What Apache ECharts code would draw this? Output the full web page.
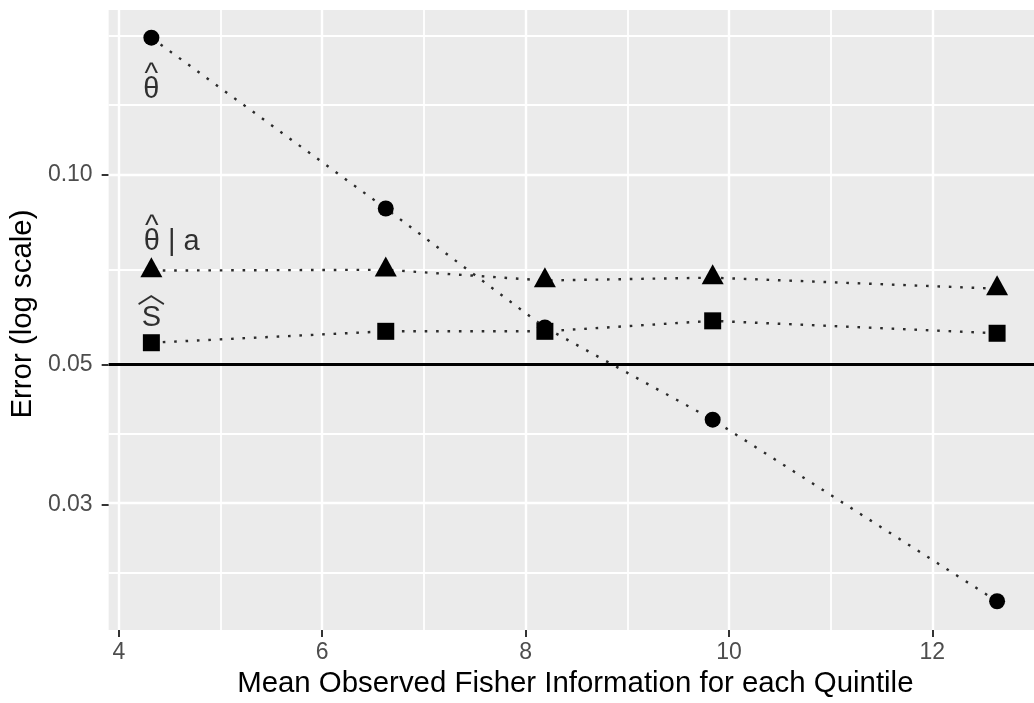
<!DOCTYPE html>
<html><head><meta charset="utf-8">
<script src="https://cdn.jsdelivr.net/npm/echarts@6/dist/echarts.min.js"></script>
<style>html,body{margin:0;padding:0;background:#fff}#c{width:1034px;height:703px}</style>
</head><body><div id="c"></div>
<script>
// ---- data ----
const xValues = [4.32, 6.625, 8.19, 9.84, 12.637];
const thetaHat = [0.1647, 0.0884, 0.0573, 0.04095, 0.02113];
const thetaHatGivenA = [0.0705, 0.0707, 0.0680, 0.0687, 0.0660];
const sHat = [0.0542, 0.0565, 0.0565, 0.0587, 0.0561];
const yTickValues = [0.03, 0.05, 0.10];
const yMinorGrid = [0.0234, 0.0387, 0.0707, 0.1288, 0.1663];
const xTickValues = [4, 6, 8, 10, 12];
const xMinorGrid = [5, 7, 9, 11];
const referenceLine = 0.05;
const annX = [4.32, 4.52, 4.32];
const annY = [0.1397, 0.0804, 0.0634];
const annHat = ['^', '^', '︿'];
const annText = ['θ', 'θ | a', 'S'];

const FONT = 'Liberation Sans, Arial, Helvetica, sans-serif';
const L = v => Math.log10(v);

const chart = echarts.init(document.getElementById('c'));

const gridLines = [];
xTickValues.forEach(v => gridLines.push({xAxis: v, lineStyle: {color: '#fff', width: 2.4, type: 'solid'}}));
xMinorGrid.forEach(v => gridLines.push({xAxis: v, lineStyle: {color: '#fff', width: 1.8, type: 'solid'}}));
yTickValues.forEach(v => gridLines.push({yAxis: L(v), lineStyle: {color: '#fff', width: 2.4, type: 'solid'}}));
yMinorGrid.forEach(v => gridLines.push({yAxis: L(v), lineStyle: {color: '#fff', width: 1.8, type: 'solid'}}));

const dotted = {type: [2.6, 8.8], width: 2.4, color: '#2b2b2b', cap: 'butt', opacity: 1};
const toPts = arr => xValues.map((x, i) => [x, L(arr[i])]);

const annData = annX.map((x, i) => {
  const hatStyle = i === 1 ? 'h2' : (i === 2 ? 'hw' : 'h');
  return {
    value: [x, L(annY[i])],
    label: {formatter: '{' + hatStyle + '|' + annHat[i] + '}\n{t|' + annText[i] + '}'}
  };
});

const pointStyle = {color: '#000', opacity: 1};

const option = {
  animation: false,
  backgroundColor: '#fff',
  grid: {left: 107.7, right: 0, top: 10, bottom: 71.3, show: true, backgroundColor: '#EBEBEB', borderWidth: 0},
  xAxis: {
    type: 'value', min: 3.9, max: 13.0,
    splitLine: {show: false}, axisLine: {show: false},
    axisTick: {show: true, length: 7, lineStyle: {color: '#333', width: 2}, customValues: xTickValues},
    axisLabel: {customValues: xTickValues, color: '#4D4D4D', fontSize: 23, margin: 11, fontFamily: FONT},
    name: 'Mean Observed Fisher Information for each Quintile',
    nameLocation: 'middle', nameGap: 32,
    nameTextStyle: {fontSize: 29.4, color: '#000', fontFamily: FONT, padding: [0, 0, 0, 8]}
  },
  yAxis: {
    type: 'value', min: L(0.01902), max: L(0.1822),
    splitLine: {show: false}, axisLine: {show: false},
    axisTick: {show: true, length: 7, lineStyle: {color: '#333', width: 2}, customValues: yTickValues.map(L)},
    axisLabel: {customValues: yTickValues.map(L), color: '#4D4D4D', fontSize: 23, margin: 16, fontFamily: FONT,
      formatter: v => Math.pow(10, v).toFixed(2)},
    name: 'Error (log scale)', nameLocation: 'middle', nameGap: 68, nameRotate: 90,
    nameTextStyle: {fontSize: 29.4, color: '#000', fontFamily: FONT, padding: [0, 0, 0, 12]}
  },
  series: [
    {type: 'line', data: [], silent: true, z: 1,
      markLine: {z: 1, zlevel: 0, silent: true, symbol: ['none', 'none'], label: {show: false}, animation: false, data: gridLines}},
    {type: 'line', data: [], silent: true, z: 2,
      markLine: {z: 2, zlevel: 0, silent: true, symbol: ['none', 'none'], label: {show: false}, animation: false,
        data: [{yAxis: L(referenceLine), lineStyle: {color: '#000', width: 2.8, type: 'solid'}}]}},
    {name: 'θ̂', type: 'line', data: toPts(thetaHat), symbol: 'none', lineStyle: dotted, z: 3},
    {name: 'θ̂ | a', type: 'line', data: toPts(thetaHatGivenA), symbol: 'none', lineStyle: dotted, z: 3},
    {name: 'Ŝ', type: 'line', data: toPts(sHat), symbol: 'none', lineStyle: dotted, z: 3},
    {type: 'scatter', data: toPts(thetaHat), symbol: 'circle', symbolSize: 16, itemStyle: pointStyle, z: 4},
    {type: 'scatter', data: toPts(thetaHatGivenA), symbol: 'triangle', symbolSize: [22, 20], symbolOffset: [0, -3.3], itemStyle: pointStyle, z: 4},
    {type: 'scatter', data: toPts(sHat), symbol: 'rect', symbolSize: 17, itemStyle: pointStyle, z: 4},
    {type: 'scatter', data: annData, symbolSize: 1, itemStyle: {color: 'transparent'}, z: 5, silent: true,
      label: {show: true, position: 'inside', color: '#000', fontFamily: FONT,
        rich: {
          h: {fontSize: 29, lineHeight: 15, fontFamily: FONT, color: '#000'},
          h2: {fontSize: 29, lineHeight: 15, fontFamily: FONT, color: '#000', padding: [0, 40, 0, 0]},
          hw: {fontSize: 28, lineHeight: 37, fontFamily: 'Noto Sans CJK SC', color: '#000'},
          t: {fontSize: 29, lineHeight: 15, fontFamily: FONT, color: '#000'}
        }}}
  ]
};
chart.setOption(option);
</script></body></html>
